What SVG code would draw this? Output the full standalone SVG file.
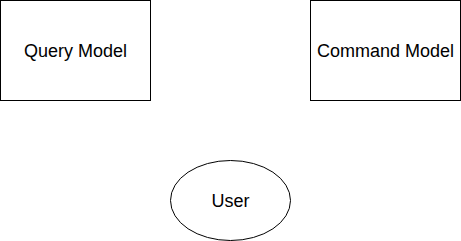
<svg xmlns="http://www.w3.org/2000/svg" width="461" height="241" viewBox="0 0 461 241">
  <style>
    .shape { fill: #ffffff; stroke: #000000; stroke-width: 1; }
    .label { font-family: "Liberation Sans", Arial, sans-serif; font-size: 18px; fill: #000000; text-anchor: middle; dominant-baseline: central; }
  </style>
  <rect x="0" y="0" width="461" height="241" fill="#ffffff"/>
  <g id="connectors"></g>
  <g id="query-model">
    <rect class="shape" x="0.5" y="0.5" width="150" height="100"/>
    <text class="label" x="75.5" y="50.5">Query Model</text>
  </g>
  <g id="command-model">
    <rect class="shape" x="310.5" y="0.5" width="150" height="100"/>
    <text class="label" x="385.5" y="50.5">Command Model</text>
  </g>
  <g id="user">
    <ellipse class="shape" cx="230.5" cy="200.5" rx="60" ry="40"/>
    <text class="label" x="230.5" y="200.5">User</text>
  </g>
</svg>
